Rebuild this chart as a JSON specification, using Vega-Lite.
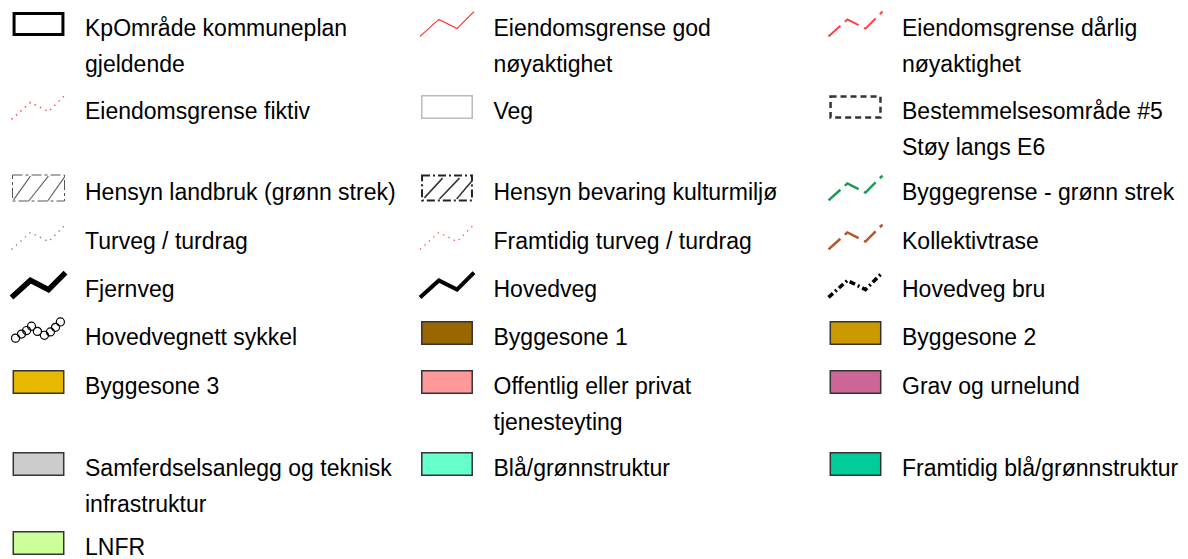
{
  "$schema": "https://vega.github.io/schema/vega-lite/v6.json",
  "width": 1188,
  "height": 559,
  "autosize": {"type": "none"},
  "padding": 0,
  "background": "white",
  "config": {"view": {"stroke": null}},
  "data": {"values": [
    {"row": 1, "col": 1, "kind": "kp", "label": "KpOmråde kommuneplan\ngjeldende"},
    {"row": 1, "col": 2, "kind": "god", "label": "Eiendomsgrense god\nnøyaktighet"},
    {"row": 1, "col": 3, "kind": "darlig", "label": "Eiendomsgrense dårlig\nnøyaktighet"},
    {"row": 2, "col": 1, "kind": "fiktiv", "label": "Eiendomsgrense fiktiv"},
    {"row": 2, "col": 2, "kind": "veg", "label": "Veg"},
    {"row": 2, "col": 3, "kind": "bestemmelse", "label": "Bestemmelsesområde #5\nStøy langs E6"},
    {"row": 3, "col": 1, "kind": "landbruk", "label": "Hensyn landbruk (grønn strek)"},
    {"row": 3, "col": 2, "kind": "bevaring", "label": "Hensyn bevaring kulturmiljø"},
    {"row": 3, "col": 3, "kind": "byggegrense", "label": "Byggegrense - grønn strek"},
    {"row": 4, "col": 1, "kind": "turveg", "label": "Turveg / turdrag"},
    {"row": 4, "col": 2, "kind": "framturveg", "label": "Framtidig turveg / turdrag"},
    {"row": 4, "col": 3, "kind": "kollektiv", "label": "Kollektivtrase"},
    {"row": 5, "col": 1, "kind": "fjernveg", "label": "Fjernveg"},
    {"row": 5, "col": 2, "kind": "hovedveg", "label": "Hovedveg"},
    {"row": 5, "col": 3, "kind": "bru", "label": "Hovedveg bru"},
    {"row": 6, "col": 1, "kind": "sykkel", "label": "Hovedvegnett sykkel"},
    {"row": 6, "col": 2, "kind": "bs1", "label": "Byggesone 1"},
    {"row": 6, "col": 3, "kind": "bs2", "label": "Byggesone 2"},
    {"row": 7, "col": 1, "kind": "bs3", "label": "Byggesone 3"},
    {"row": 7, "col": 2, "kind": "opt", "label": "Offentlig eller privat\ntjenesteyting"},
    {"row": 7, "col": 3, "kind": "grav", "label": "Grav og urnelund"},
    {"row": 8, "col": 1, "kind": "samf", "label": "Samferdselsanlegg og teknisk\ninfrastruktur"},
    {"row": 8, "col": 2, "kind": "bg", "label": "Blå/grønnstruktur"},
    {"row": 8, "col": 3, "kind": "fbg", "label": "Framtidig blå/grønnstruktur"},
    {"row": 9, "col": 1, "kind": "lnfr", "label": "LNFR"}
  ]},
  "encoding": {
    "x": {"field": "col", "type": "quantitative", "scale": {"domain": [1, 3], "range": [38.5, 855.5], "nice": false, "zero": false}, "axis": null},
    "y": {"field": "row", "type": "quantitative", "scale": {"domain": [1, 2, 3, 4, 5, 6, 7, 8, 9], "range": [24, 107, 188, 237, 285, 333, 382, 464, 543], "nice": false, "zero": false}, "axis": null}
  },
  "layer": [
    {
      "mark": {"type": "text", "align": "left", "baseline": "alphabetic", "dx": 46.5, "dy": 12, "font": "Liberation Sans", "fontSize": 23, "lineBreak": "\n", "lineHeight": 36, "color": "#000000"},
      "encoding": {"text": {"field": "label"}}
    },
    {
      "transform": [{"filter": {"field": "kind", "oneOf": ["bs1", "bs2", "bs3", "opt", "grav", "samf", "bg", "fbg", "lnfr"]}}],
      "mark": {"type": "point", "shape": "M-0.97,-0.43H0.97V0.43H-0.97Z", "size": 2704, "filled": true, "opacity": 1, "stroke": "#333333", "strokeWidth": 1.5},
      "encoding": {"fill": {"field": "kind", "type": "nominal", "legend": null, "scale": {"domain": ["bs1", "bs2", "bs3", "opt", "grav", "samf", "bg", "fbg", "lnfr"], "range": ["#996600", "#cc9900", "#e6b800", "#ff9999", "#cc6699", "#cccccc", "#66ffcc", "#00cc99", "#ccff99"]}}}
    },
    {
      "transform": [{"filter": {"field": "kind", "equal": "kp"}}],
      "mark": {"type": "point", "shape": "M-0.94,-0.4H0.94V0.4H-0.94Z", "size": 2704, "filled": false, "opacity": 1, "stroke": "#000000", "strokeWidth": 3}
    },
    {
      "transform": [{"filter": {"field": "kind", "equal": "veg"}}],
      "mark": {"type": "point", "shape": "M-0.97,-0.43H0.97V0.43H-0.97Z", "size": 2704, "filled": false, "opacity": 1, "stroke": "#bbbbbb", "strokeWidth": 1.5}
    },
    {
      "transform": [{"filter": {"field": "kind", "equal": "bestemmelse"}}],
      "mark": {"type": "point", "shape": "M-0.96,-0.4H0.96V0.4H-0.96Z", "size": 2704, "filled": false, "opacity": 1, "stroke": "#333333", "strokeWidth": 2.5, "strokeDash": [6, 4]}
    },
    {
      "transform": [{"filter": {"field": "kind", "equal": "landbruk"}}],
      "mark": {"type": "point", "shape": "M-1,-0.5H1V0.5H-1Z", "size": 2704, "filled": false, "opacity": 1, "stroke": "#555555", "strokeWidth": 1, "strokeDash": [10, 3, 3, 3]}
    },
    {
      "transform": [{"filter": {"field": "kind", "equal": "landbruk"}}],
      "mark": {"type": "point", "shape": "M-0.96,0.46L-0.31,-0.46M-0.38,0.5L0.38,-0.46M0.35,0.5L1,-0.42", "size": 2704, "filled": false, "opacity": 1, "stroke": "#666666", "strokeWidth": 1.2}
    },
    {
      "transform": [{"filter": {"field": "kind", "equal": "bevaring"}}],
      "mark": {"type": "point", "shape": "M-0.96,-0.48H0.96V0.48H-0.96Z", "size": 2704, "filled": false, "opacity": 1, "stroke": "#222222", "strokeWidth": 2, "strokeDash": [8, 3, 2, 3]}
    },
    {
      "transform": [{"filter": {"field": "kind", "equal": "bevaring"}}],
      "mark": {"type": "point", "shape": "M-0.87,0.38L-0.17,-0.38M-0.29,0.42L0.48,-0.38M0.37,0.42L0.98,-0.3", "size": 2704, "filled": false, "opacity": 1, "stroke": "#333333", "strokeWidth": 1.5}
    },
    {
      "transform": [{"filter": {"field": "kind", "equal": "god"}}],
      "mark": {"type": "point", "shape": "M-1,0.46L-0.3,-0.17L0.37,0.17L1,-0.46", "size": 2916, "filled": false, "opacity": 1, "stroke": "#ff3030", "strokeWidth": 1.2}
    },
    {
      "transform": [{"filter": {"field": "kind", "equal": "darlig"}}],
      "mark": {"type": "point", "shape": "M-1,0.46L-0.3,-0.17L0.37,0.17L1,-0.46", "size": 2916, "filled": false, "opacity": 1, "stroke": "#ff4040", "strokeWidth": 2, "strokeDash": [16, 6]}
    },
    {
      "transform": [{"filter": {"field": "kind", "equal": "fiktiv"}}],
      "mark": {"type": "point", "shape": "M-1,0.46L-0.3,-0.17L0.37,0.17L1,-0.46", "size": 2916, "filled": false, "opacity": 1, "stroke": "#ff5050", "strokeWidth": 1.5, "strokeDash": [1.5, 4.5]}
    },
    {
      "transform": [{"filter": {"field": "kind", "equal": "turveg"}}],
      "mark": {"type": "point", "shape": "M-1,0.46L-0.3,-0.17L0.37,0.17L1,-0.46", "size": 2916, "filled": false, "opacity": 1, "stroke": "#888888", "strokeWidth": 1.3, "strokeDash": [1.5, 4.5]}
    },
    {
      "transform": [{"filter": {"field": "kind", "equal": "framturveg"}}],
      "mark": {"type": "point", "shape": "M-1,0.46L-0.3,-0.17L0.37,0.17L1,-0.46", "size": 2916, "filled": false, "opacity": 1, "stroke": "#ff6060", "strokeWidth": 1.3, "strokeDash": [1.5, 4.5]}
    },
    {
      "transform": [{"filter": {"field": "kind", "equal": "byggegrense"}}],
      "mark": {"type": "point", "shape": "M-1,0.46L-0.3,-0.17L0.37,0.17L1,-0.46", "size": 2916, "filled": false, "opacity": 1, "stroke": "#1f9a55", "strokeWidth": 2.5, "strokeDash": [16, 6]}
    },
    {
      "transform": [{"filter": {"field": "kind", "equal": "kollektiv"}}],
      "mark": {"type": "point", "shape": "M-1,0.46L-0.3,-0.17L0.37,0.17L1,-0.46", "size": 2916, "filled": false, "opacity": 1, "stroke": "#b5562b", "strokeWidth": 2.5, "strokeDash": [16, 6]}
    },
    {
      "transform": [{"filter": {"field": "kind", "equal": "fjernveg"}}],
      "mark": {"type": "point", "shape": "M-1,0.46L-0.3,-0.17L0.37,0.17L1,-0.46", "size": 2916, "filled": false, "opacity": 1, "stroke": "#000000", "strokeWidth": 5.5}
    },
    {
      "transform": [{"filter": {"field": "kind", "equal": "hovedveg"}}],
      "mark": {"type": "point", "shape": "M-1,0.46L-0.3,-0.17L0.37,0.17L1,-0.46", "size": 2916, "filled": false, "opacity": 1, "stroke": "#000000", "strokeWidth": 4}
    },
    {
      "transform": [{"filter": {"field": "kind", "equal": "bru"}}],
      "mark": {"type": "point", "shape": "M-1,0.46L-0.3,-0.17L0.37,0.17L1,-0.46", "size": 2916, "filled": false, "opacity": 1, "stroke": "#000000", "strokeWidth": 3.5, "strokeDash": [6, 3, 2, 3]}
    },
    {
      "transform": [{"filter": {"field": "kind", "equal": "sykkel"}}],
      "mark": {"type": "point", "shape": "M-1,0.19a0.15,0.15 0 1,0 0.3,0a0.15,0.15 0 1,0 -0.3,0M-0.78,0.04a0.15,0.15 0 1,0 0.3,0a0.15,0.15 0 1,0 -0.3,0M-0.59,-0.09a0.15,0.15 0 1,0 0.3,0a0.15,0.15 0 1,0 -0.3,0M-0.41,-0.25a0.15,0.15 0 1,0 0.3,0a0.15,0.15 0 1,0 -0.3,0M-0.19,-0.06a0.15,0.15 0 1,0 0.3,0a0.15,0.15 0 1,0 -0.3,0M0.07,0.085a0.15,0.15 0 1,0 0.3,0a0.15,0.15 0 1,0 -0.3,0M0.29,-0.04a0.15,0.15 0 1,0 0.3,0a0.15,0.15 0 1,0 -0.3,0M0.48,-0.21a0.15,0.15 0 1,0 0.3,0a0.15,0.15 0 1,0 -0.3,0M0.66,-0.41a0.15,0.15 0 1,0 0.3,0a0.15,0.15 0 1,0 -0.3,0", "size": 2916, "filled": false, "opacity": 1, "stroke": "#000000", "strokeWidth": 1.2}
    }
  ]
}
